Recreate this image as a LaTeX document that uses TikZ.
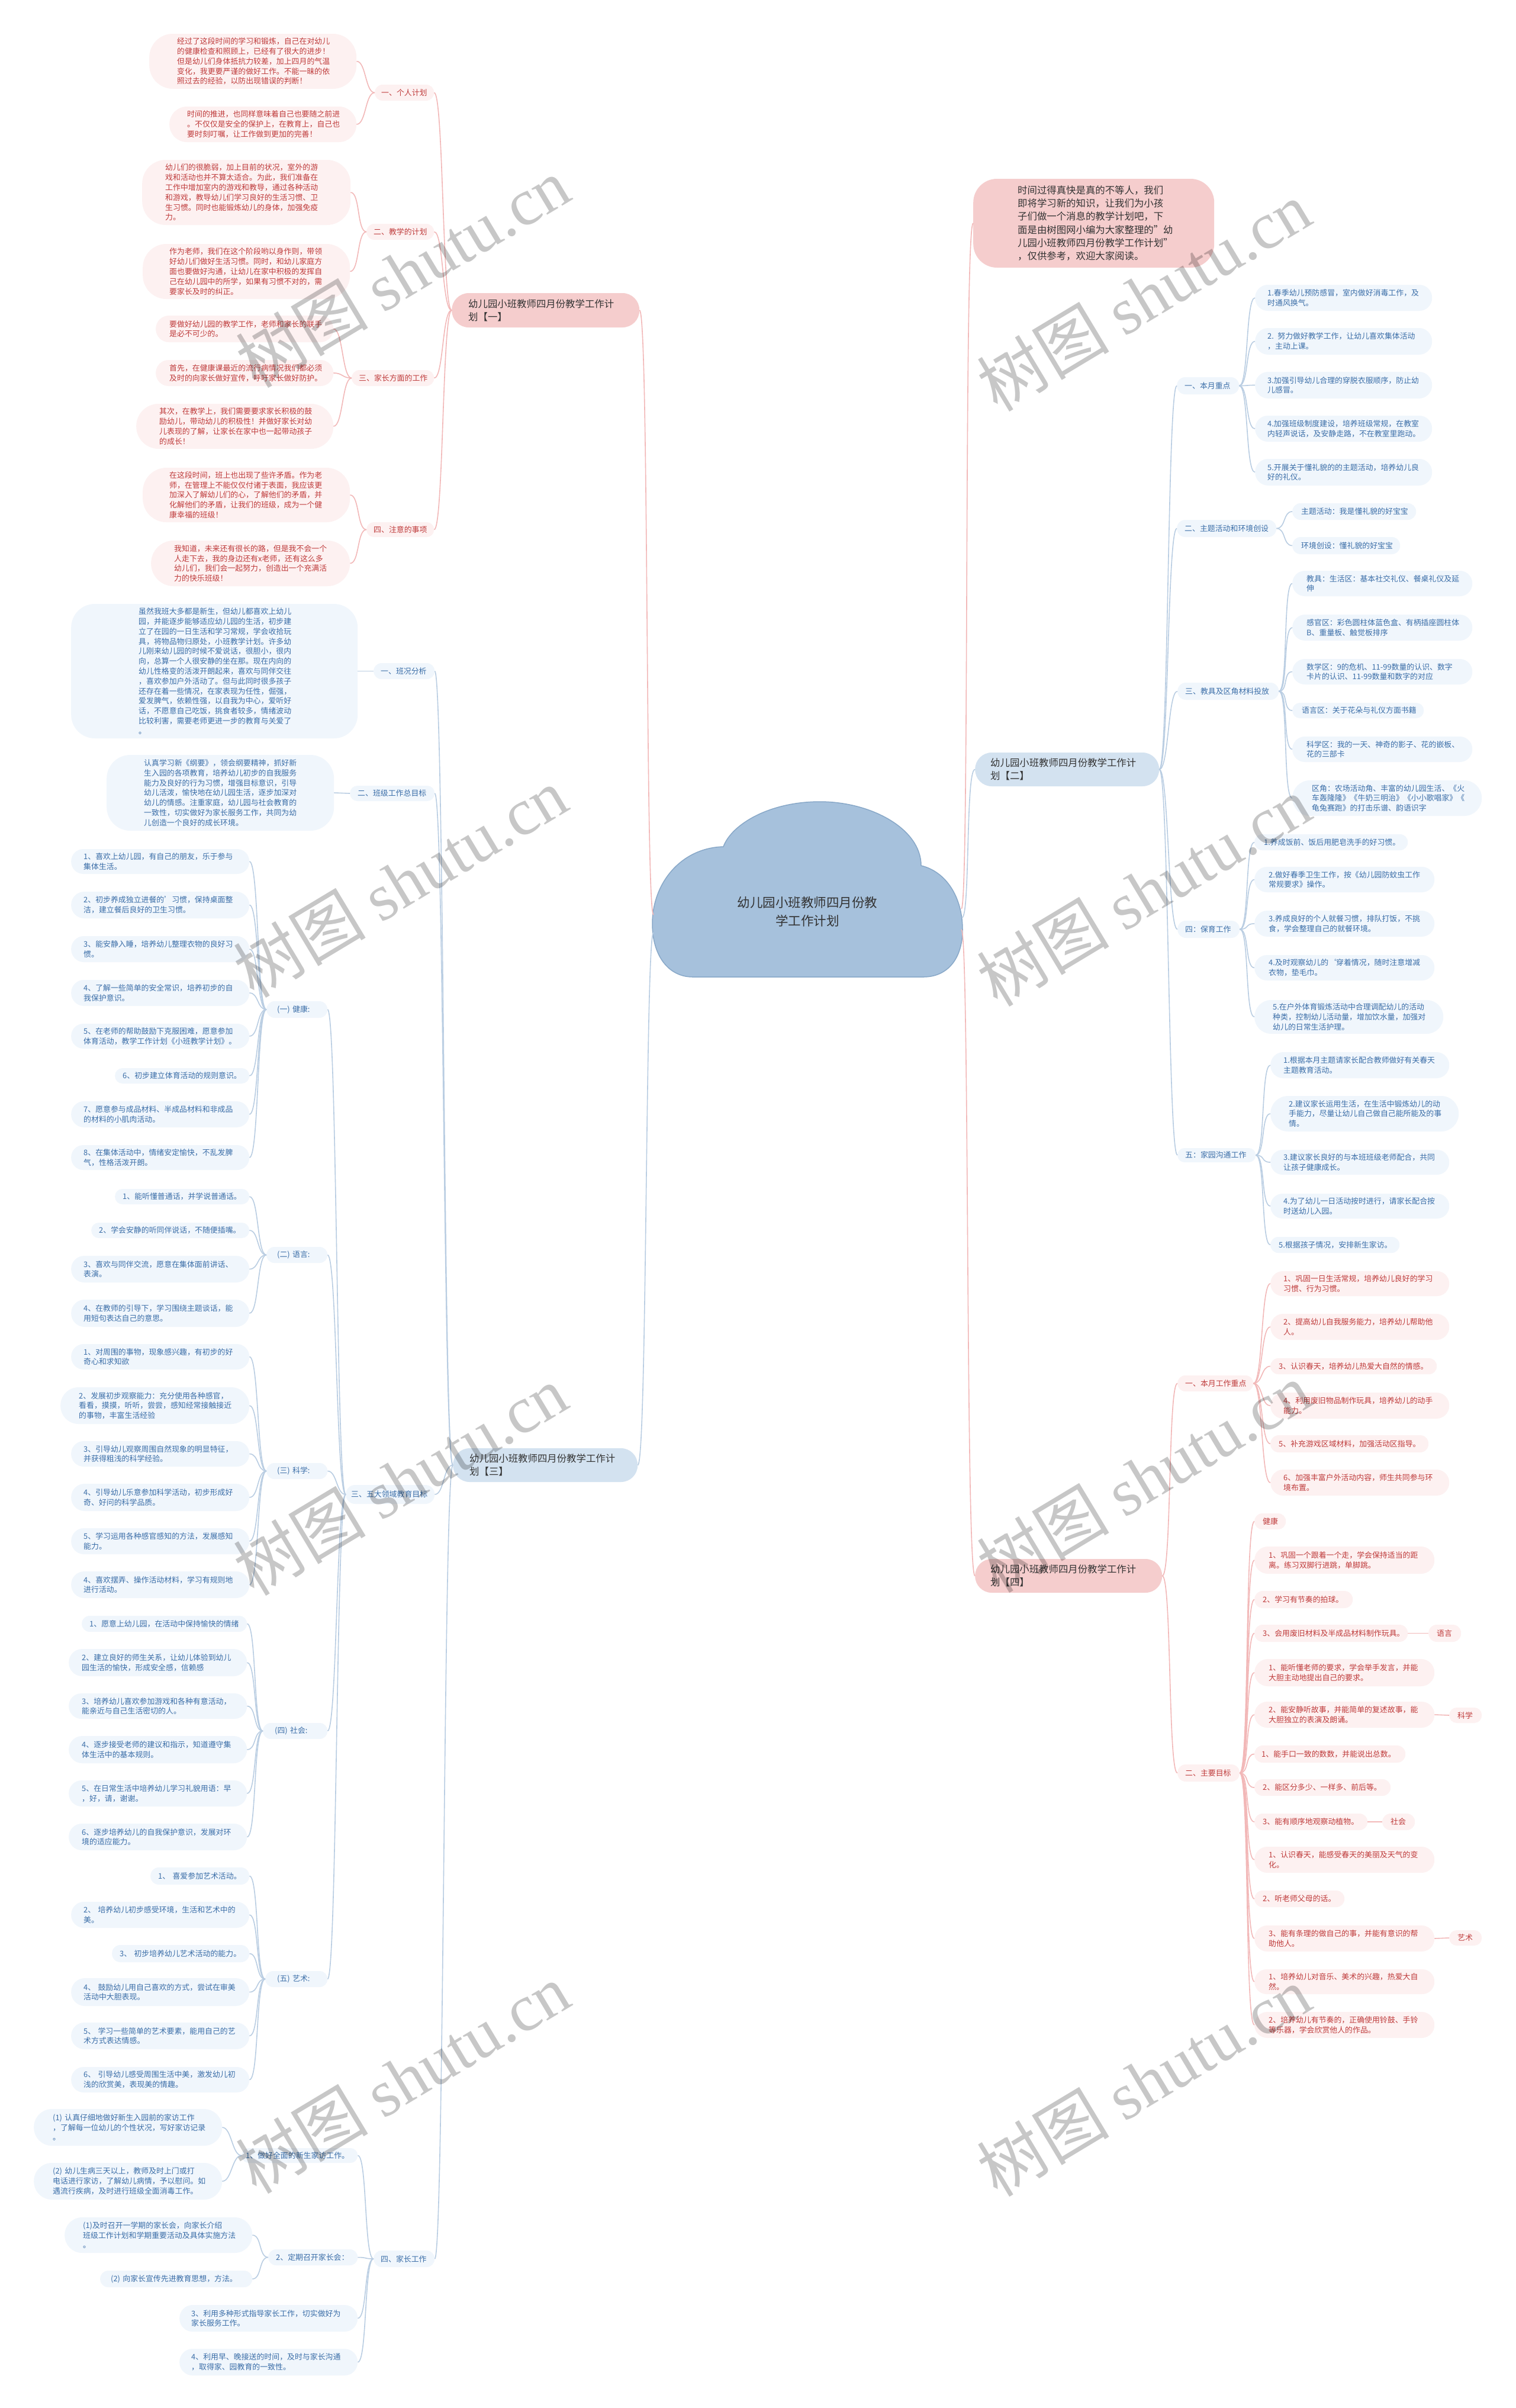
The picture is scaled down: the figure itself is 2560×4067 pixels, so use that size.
\documentclass[tikz,border=0pt]{standalone}
\usepackage{fontspec}
\setmainfont{Noto Sans CJK SC}
\newfontfamily\wmlat{Liberation Serif}
\definecolor{pkfill}{HTML}{FDF1F1}
\definecolor{pktext}{HTML}{BF3B3B}
\definecolor{pkline}{HTML}{F2B8B8}
\definecolor{pkplan}{HTML}{F5CDCD}
\definecolor{blfill}{HTML}{F0F6FC}
\definecolor{bltext}{HTML}{3B6EA8}
\definecolor{blline}{HTML}{B9CDE2}
\definecolor{blplan}{HTML}{D3E2F0}
\definecolor{cloudfill}{HTML}{A6C1DC}
\definecolor{cloudline}{HTML}{88A8C8}
\definecolor{darktext}{HTML}{333333}
\newcommand\leaffont{\fontsize{12.9}{16.8}\selectfont}
\newcommand\planfont{\fontsize{16.4}{21.7}\selectfont}
\newcommand\introfont{\fontsize{16.4}{22.3}\selectfont}
\newcommand\rootfont{\fontsize{21.5}{31}\selectfont}
\newcommand\mnode[8]{%
 \pgfmathsetmacro\lfxs{#7-#3}%
 \pgfmathsetmacro\lftw{#5-#7-(#7-#3)}%
 \pgfmathsetmacro\lfhh{#6-#4}%
 \pgfmathsetmacro\lfmy{(#4+#6)/2}%
 \pgfmathsetmacro\lfr{min(\lfhh/2-0.3,40)}%
 \node[#1, anchor=west, inner xsep=\lfxs pt, inner ysep=0pt, text width=\lftw pt, minimum height=\lfhh pt, rounded corners=\lfr pt, align=left] (#2) at (#3,\lfmy) {#8};}
\newcommand\conR[3]{\draw[#1] (#2.east) .. controls +(16,0) and +(-16,0) .. (#3.west);}
\newcommand\conL[3]{\draw[#1] (#2.west) .. controls +(-16,0) and +(16,0) .. (#3.east);}
\begin{document}
\begin{tikzpicture}[x=1pt,y=-1pt,
  pk/.style={fill=pkfill, text=pktext, font=\leaffont},
  bl/.style={fill=blfill, text=bltext, font=\leaffont},
  pkplanbox/.style={fill=pkplan, text=darktext, font=\planfont},
  blplanbox/.style={fill=blplan, text=darktext, font=\planfont},
  introbox/.style={fill=pkplan, text=darktext, font=\introfont},
  pcon/.style={draw=pkline, line width=1.6pt},
  bcon/.style={draw=blline, line width=1.6pt},
  wmark/.style={text=black, text opacity=0.22, font=\fontsize{112}{112}\selectfont, rotate=31, inner sep=0pt}]
\fill[white] (0,0) rectangle (2560,4067);
\useasboundingbox (0,0) rectangle (2560,4067);

% ---------- central cloud ----------
\path[fill=cloudfill, draw=cloudline, line width=1.5pt]
 (1170,1650) -- (1560,1650)
 .. controls (1600,1650) and (1626,1620) .. (1626,1570)
 .. controls (1626,1515) and (1598,1472) .. (1556,1462)
 .. controls (1556,1400) and (1472,1354) .. (1385,1354)
 .. controls (1300,1354) and (1236,1392) .. (1222,1430)
 .. controls (1150,1432) and (1102,1492) .. (1102,1560)
 .. controls (1102,1615) and (1130,1650) .. (1170,1650) -- cycle;
\node[text=darktext, font=\rootfont, align=center] (root) at (1364,1540) {幼儿园小班教师四月份教\\学工作计划};
\coordinate (rL1) at (1104,1545);
\coordinate (rL2) at (1104,1575);
\coordinate (rR1) at (1624,1535);
\coordinate (rR2) at (1625,1550);
\coordinate (rR3) at (1624,1570);

% ---------- plan 1 ----------
\mnode{pkplanbox}{p1}{763}{495}{1080}{553}{791}{幼儿园小班教师四月份教学工作计\\划【一】}
\mnode{pk}{a1}{633}{143}{733}{170}{644}{一、个人计划}
\mnode{pk}{a1l1}{252}{57}{602}{150}{299}{经过了这段时间的学习和锻炼，自己在对幼儿\\的健康检查和照顾上，已经有了很大的进步！\\但是幼儿们身体抵抗力较差，加上四月的气温\\变化，我更要严谨的做好工作。不能一昧的依\\照过去的经验，以防出现错误的判断！}
\mnode{pk}{a1l2}{286}{180}{602}{240}{316}{时间的推进，也同样意味着自己也要随之前进\\。不仅仅是安全的保护上，在教育上，自己也\\要时刻叮嘱，让工作做到更加的完善！}
\mnode{pk}{a2}{619}{378}{733}{405}{631}{二、教学的计划}
\mnode{pk}{a2l1}{240}{270}{592}{380}{279}{幼儿们的很脆弱，加上目前的状况，室外的游\\戏和活动也并不算太适合。为此，我们准备在\\工作中增加室内的游戏和教导，通过各种活动\\和游戏，教导幼儿们学习良好的生活习惯、卫\\生习惯。同时也能锻炼幼儿的身体，加强免疫\\力。}
\mnode{pk}{a2l2}{241}{412}{591}{505}{286}{作为老师，我们在这个阶段哟以身作则，带领\\好幼儿们做好生活习惯。同时，和幼儿家庭方\\面也要做好沟通，让幼儿在家中积极的发挥自\\己在幼儿园中的所学，如果有习惯不对的，需\\要家长及时的纠正。}
\mnode{pk}{a3}{594}{625}{733}{652}{606}{三、家长方面的工作}
\mnode{pk}{a3l1}{263}{533}{563}{578}{286}{要做好幼儿园的教学工作，老师和家长的联手\\是必不可少的。}
\mnode{pk}{a3l2}{263}{608}{563}{652}{286}{首先，在健康课最近的流行病情况我们都必须\\及时的向家长做好宣传，呼吁家长做好防护。}
\mnode{pk}{a3l3}{230}{682}{563}{758}{269}{其次，在教学上，我们需要要求家长积极的鼓\\励幼儿，带动幼儿的积极性！并做好家长对幼\\儿表现的了解，让家长在家中也一起带动孩子\\的成长！}
\mnode{pk}{a4}{619}{882}{733}{907}{631}{四、注意的事项}
\mnode{pk}{a4l1}{241}{790}{591}{882}{286}{在这段时间，班上也出现了些许矛盾。作为老\\师，在管理上不能仅仅付诸于表面，我应该更\\加深入了解幼儿们的心，了解他们的矛盾，并\\化解他们的矛盾，让我们的班级，成为一个健\\康幸福的班级！}
\mnode{pk}{a4l2}{255}{913}{591}{990}{294}{我知道，未来还有很长的路，但是我不会一个\\人走下去，我的身边还有x老师，还有这么多\\幼儿们，我们会一起努力，创造出一个充满活\\力的快乐班级！}

% ---------- plan 3 ----------
\mnode{blplanbox}{p3}{765}{2446}{1077}{2503}{793}{幼儿园小班教师四月份教学工作计\\划【三】}
\mnode{bl}{b1}{631}{1120}{734}{1147}{643}{一、班况分析}
\mnode{bl}{b1l}{120}{1020}{604}{1247}{234}{虽然我班大多都是新生，但幼儿都喜欢上幼儿\\园，并能逐步能够适应幼儿园的生活，初步建\\立了在园的一日生活和学习常规，学会收拾玩\\具，将物品物归原处，小班教学计划。许多幼\\儿刚来幼儿园的时候不爱说话，很胆小，很内\\向，总算一个人很安静的坐在那。现在内向的\\幼儿性格变的活泼开朗起来，喜欢与同伴交往\\，喜欢参加户外活动了。但与此同时很多孩子\\还存在着一些情况，在家表现为任性，倔强，\\爱发脾气，依赖性强，以自我为中心，爱听好\\话，不愿意自己吃饭，挑食者较多，情绪波动\\比较利害，需要老师更进一步的教育与关爱了\\。}
\mnode{bl}{b2}{591}{1327}{734}{1353}{604}{二、班级工作总目标}
\mnode{bl}{b2l}{180}{1275}{564}{1403}{243}{认真学习新《纲要》，领会纲要精神，抓好新\\生入园的各项教育，培养幼儿初步的自我服务\\能力及良好的行为习惯，增强目标意识，引导\\幼儿活泼，愉快地在幼儿园生活，逐步加深对\\幼儿的情感。注重家庭，幼儿园与社会教育的\\一致性，切实做好为家长服务工作，共同为幼\\儿创造一个良好的成长环境。}
\mnode{bl}{b3}{584}{2508}{734}{2540}{593}{三、五大领域教育目标}
\mnode{bl}{b4}{631}{3801}{734}{3829}{643}{四、家长工作}

\mnode{bl}{hc}{450}{1691}{553}{1719}{468}{(一) 健康:}
\mnode{bl}{h1}{120}{1434}{421}{1476}{141}{1、喜欢上幼儿园，有自己的朋友，乐于参与\\集体生活。}
\mnode{bl}{h2}{120}{1506}{421}{1551}{141}{2、初步养成独立进餐的'习惯，保持桌面整\\洁，建立餐后良好的卫生习惯。}
\mnode{bl}{h3}{120}{1581}{421}{1625}{141}{3、能安静入睡，培养幼儿整理衣物的良好习\\惯。}
\mnode{bl}{h4}{120}{1655}{421}{1699}{141}{4、了解一些简单的安全常识，培养初步的自\\我保护意识。}
\mnode{bl}{h5}{120}{1729}{421}{1771}{141}{5、在老师的帮助鼓励下克服困难，愿意参加\\体育活动，教学工作计划《小班教学计划》。}
\mnode{bl}{h6}{194}{1804}{421}{1830}{207}{6、初步建立体育活动的规则意识。}
\mnode{bl}{h7}{120}{1860}{421}{1904}{141}{7、愿意参与成品材料、半成品材料和非成品\\的材料的小肌肉活动。}
\mnode{bl}{h8}{120}{1934}{421}{1976}{141}{8、在集体活动中，情绪安定愉快，不乱发脾\\气，性格活泼开朗。}

\mnode{bl}{lc}{450}{2106}{553}{2133}{468}{(二) 语言:}
\mnode{bl}{l1}{194}{2008}{421}{2034}{207}{1、能听懂普通话，并学说普通话。}
\mnode{bl}{l2}{154}{2065}{421}{2091}{167}{2、学会安静的听同伴说话，不随便插嘴。}
\mnode{bl}{l3}{120}{2121}{421}{2166}{141}{3、喜欢与同伴交流，愿意在集体面前讲话、\\表演。}
\mnode{bl}{l4}{120}{2195}{421}{2241}{141}{4、在教师的引导下，学习围绕主题谈话，能\\用短句表达自己的意思。}

\mnode{bl}{sc}{450}{2471}{553}{2498}{468}{(三) 科学:}
\mnode{bl}{s1}{120}{2270}{421}{2313}{141}{1、对周围的事物，现象感兴趣，有初步的好\\奇心和求知欲}
\mnode{bl}{s2}{102}{2343}{421}{2405}{133}{2、发展初步观察能力：充分使用各种感官，\\看看，摸摸，听听，尝尝，感知经常接触接近\\的事物，丰富生活经验}
\mnode{bl}{s3}{120}{2434}{421}{2477}{141}{3、引导幼儿观察周围自然现象的明显特征，\\并获得粗浅的科学经验。}
\mnode{bl}{s4}{120}{2506}{421}{2552}{141}{4、引导幼儿乐意参加科学活动，初步形成好\\奇、好问的科学品质。}
\mnode{bl}{s5}{120}{2581}{421}{2625}{141}{5、学习运用各种感官感知的方法，发展感知\\能力。}
\mnode{bl}{s6}{120}{2654}{421}{2699}{141}{4、喜欢摆弄、操作活动材料，学习有规则地\\进行活动。}

\mnode{bl}{oc}{444}{2910}{553}{2937}{464}{(四) 社会:}
\mnode{bl}{o1}{138}{2729}{417}{2756}{151}{1、愿意上幼儿园，在活动中保持愉快的情绪}
\mnode{bl}{o2}{116}{2785}{417}{2831}{138}{2、建立良好的师生关系，让幼儿体验到幼儿\\园生活的愉快，形成安全感，信赖感}
\mnode{bl}{o3}{116}{2860}{417}{2903}{138}{3、培养幼儿喜欢参加游戏和各种有意活动，\\能亲近与自己生活密切的人。}
\mnode{bl}{o4}{116}{2932}{417}{2978}{138}{4、逐步接受老师的建议和指示，知道遵守集\\体生活中的基本规则。}
\mnode{bl}{o5}{116}{3007}{417}{3051}{138}{5、在日常生活中培养幼儿学习礼貌用语：早\\，好，请，谢谢。}
\mnode{bl}{o6}{116}{3080}{417}{3125}{138}{6、逐步培养幼儿的自我保护意识，发展对环\\境的适应能力。}

\mnode{bl}{ac}{448}{3329}{553}{3356}{468}{(五) 艺术:}
\mnode{bl}{r1}{254}{3154}{421}{3183}{267}{1、 喜爱参加艺术活动。}
\mnode{bl}{r2}{120}{3212}{421}{3256}{141}{2、 培养幼儿初步感受环境，生活和艺术中的\\美。}
\mnode{bl}{r3}{189}{3285}{421}{3314}{202}{3、 初步培养幼儿艺术活动的能力。}
\mnode{bl}{r4}{120}{3341}{421}{3388}{141}{4、 鼓励幼儿用自己喜欢的方式，尝试在审美\\活动中大胆表现。}
\mnode{bl}{r5}{120}{3416}{421}{3461}{141}{5、 学习一些简单的艺术要素，能用自己的艺\\术方式表达情感。}
\mnode{bl}{r6}{120}{3491}{421}{3534}{141}{6、 引导幼儿感受周围生活中美，激发幼儿初\\浅的欣赏美，表现美的情趣。}

\mnode{bl}{f1}{408}{3628}{604}{3653}{415}{1、做好全面的新生家访工作。}
\mnode{bl}{f1a}{57}{3562}{375}{3624}{89}{(1) 认真仔细地做好新生入园前的家访工作\\，了解每一位幼儿的个性状况，写好家访记录\\。}
\mnode{bl}{f1b}{57}{3653}{375}{3715}{89}{(2) 幼儿生病三天以上，教师及时上门或打\\电话进行家访，了解幼儿病情，予以慰问。如\\遇流行疾病，及时进行班级全面消毒工作。}
\mnode{bl}{f2}{453}{3799}{604}{3826}{466}{2、定期召开家长会：}
\mnode{bl}{f2a}{109}{3745}{426}{3805}{140}{(1)及时召开一学期的家长会，向家长介绍\\班级工作计划和学期重要活动及具体实施方法\\。}
\mnode{bl}{f2b}{169}{3835}{426}{3863}{187}{(2) 向家长宣传先进教育思想，方法。}
\mnode{bl}{f3}{303}{3893}{604}{3938}{323}{3、利用多种形式指导家长工作，切实做好为\\家长服务工作。}
\mnode{bl}{f4}{303}{3967}{604}{4012}{323}{4、利用早、晚接送的时间，及时与家长沟通\\，取得家、园教育的一致性。}

% ---------- intro ----------
\mnode{introbox}{intro}{1644}{302}{2051}{452}{1719}{时间过得真快是真的不等人，我们\\即将学习新的知识，让我们为小孩\\子们做一个消息的教学计划吧，下\\面是由树图网小编为大家整理的"幼\\儿园小班教师四月份教学工作计划"\\，仅供参考，欢迎大家阅读。}

% ---------- plan 2 ----------
\mnode{blplanbox}{p2}{1647}{1271}{1958}{1328}{1673}{幼儿园小班教师四月份教学工作计\\划【二】}
\mnode{bl}{c1}{1988}{637}{2093}{666}{2001}{一、本月重点}
\mnode{bl}{B1}{2120}{481}{2419}{525}{2141}{1.春季幼儿预防感冒，室内做好消毒工作，及\\时通风换气。}
\mnode{bl}{B2}{2120}{554}{2419}{599}{2141}{2. 努力做好教学工作，让幼儿喜欢集体活动\\，主动上课。}
\mnode{bl}{B3}{2120}{628}{2419}{673}{2141}{3.加强引导幼儿合理的穿脱衣服顺序，防止幼\\儿感冒。}
\mnode{bl}{B4}{2120}{702}{2419}{746}{2141}{4.加强班级制度建设，培养班级常规，在教室\\内轻声说话，及安静走路，不在教室里跑动。}
\mnode{bl}{B5}{2120}{775}{2419}{820}{2141}{5.开展关于懂礼貌的的主题活动，培养幼儿良\\好的礼仪。}
\mnode{bl}{c2}{1988}{878}{2156}{907}{2001}{二、主题活动和环境创设}
\mnode{bl}{T1}{2183}{850}{2392}{878}{2198}{主题活动：我是懂礼貌的好宝宝}
\mnode{bl}{T2}{2183}{907}{2365}{936}{2198}{环境创设：懂礼貌的好宝宝}
\mnode{bl}{c3}{1989}{1153}{2160}{1182}{2002}{三、教具及区角材料投放}
\mnode{bl}{M1}{2183}{964}{2487}{1007}{2207}{教具：生活区：基本社交礼仪、餐桌礼仪及延\\伸}
\mnode{bl}{M2}{2183}{1038}{2487}{1082}{2207}{感官区：彩色圆柱体蓝色盒、有柄插座圆柱体\\B、重量板、触觉板排序}
\mnode{bl}{M3}{2183}{1113}{2487}{1156}{2207}{数学区：9的危机、11-99数量的认识、数字\\卡片的认识、11-99数量和数字的对应}
\mnode{bl}{M4}{2183}{1187}{2405}{1213}{2199}{语言区：关于花朵与礼仪方面书籍}
\mnode{bl}{M5}{2183}{1244}{2487}{1287}{2207}{科学区：我的一天、神奇的影子、花的嵌板、\\花的三部卡}
\mnode{bl}{M6}{2183}{1318}{2503}{1378}{2216}{区角：农场活动角、丰富的幼儿园生活、《火\\车轰隆隆》《牛奶三明治》《小小歌唱家》《\\龟兔赛跑》的打击乐谱、韵语识字}
\mnode{bl}{c4}{1989}{1555}{2094}{1584}{2002}{四：保育工作}
\mnode{bl}{C1}{2119}{1409}{2378}{1436}{2135}{1.养成饭前、饭后用肥皂洗手的好习惯。}
\mnode{bl}{C2}{2119}{1464}{2423}{1507}{2143}{2.做好春季卫生工作，按《幼儿园防蚊虫工作\\常规要求》操作。}
\mnode{bl}{C3}{2119}{1538}{2423}{1582}{2143}{3.养成良好的个人就餐习惯，排队打饭，不挑\\食，学会整理自己的就餐环境。}
\mnode{bl}{C4}{2119}{1613}{2423}{1656}{2143}{4.及时观察幼儿的\symbol{96}穿着情况，随时注意增减\\衣物，垫毛巾。}
\mnode{bl}{C5}{2119}{1689}{2438}{1746}{2150}{5.在户外体育锻炼活动中合理调配幼儿的活动\\种类，控制幼儿活动量，增加饮水量，加强对\\幼儿的日常生活护理。}
\mnode{bl}{c5}{1989}{1939}{2121}{1963}{2002}{五：家园沟通工作}
\mnode{bl}{H1}{2146}{1777}{2448}{1821}{2168}{1.根据本月主题请家长配合教师做好有关春天\\主题教育活动。}
\mnode{bl}{H2}{2146}{1851}{2464}{1911}{2177}{2.建议家长运用生活，在生活中锻炼幼儿的动\\手能力，尽量让幼儿自己做自己能所能及的事\\情。}
\mnode{bl}{H3}{2146}{1942}{2448}{1984}{2168}{3.建议家长良好的与本班班级老师配合，共同\\让孩子健康成长。}
\mnode{bl}{H4}{2146}{2016}{2448}{2058}{2168}{4.为了幼儿一日活动按时进行，请家长配合按\\时送幼儿入园。}
\mnode{bl}{H5}{2146}{2089}{2364}{2116}{2160}{5.根据孩子情况，安排新生家访。}

% ---------- plan 4 ----------
\mnode{pkplanbox}{p4}{1647}{2633}{1963}{2690}{1673}{幼儿园小班教师四月份教学工作计\\划【四】}
\mnode{pk}{d1}{1989}{2323}{2117}{2350}{2002}{一、本月工作重点}
\mnode{pk}{W1}{2146}{2147}{2448}{2189}{2168}{1、巩固一日生活常规，培养幼儿良好的学习\\习惯、行为习惯。}
\mnode{pk}{W2}{2146}{2219}{2448}{2263}{2168}{2、提高幼儿自我服务能力，培养幼儿帮助他\\人。}
\mnode{pk}{W3}{2146}{2294}{2427}{2321}{2160}{3、认识春天，培养幼儿热爱大自然的情感。}
\mnode{pk}{W4}{2146}{2352}{2448}{2396}{2168}{4、利用废旧物品制作玩具，培养幼儿的动手\\能力。}
\mnode{pk}{W5}{2146}{2424}{2413}{2453}{2160}{5、补充游戏区域材料，加强活动区指导。}
\mnode{pk}{W6}{2146}{2482}{2448}{2526}{2168}{6、加强丰富户外活动内容，师生共同参与环\\境布置。}
\mnode{pk}{d2}{1989}{2980}{2094}{3009}{2002}{二、主要目标}
\mnode{pk}{G0}{2119}{2556}{2172}{2583}{2133}{健康}
\mnode{pk}{G1}{2119}{2612}{2423}{2658}{2143}{1、巩固一个跟着一个走，学会保持适当的距\\离。练习双脚行进跳，单脚跳。}
\mnode{pk}{G2}{2119}{2687}{2285}{2716}{2133}{2、学习有节奏的拍球。}
\mnode{pk}{G3}{2119}{2744}{2378}{2773}{2133}{3、会用废旧材料及半成品材料制作玩具。}
\mnode{pk}{tg1}{2413}{2744}{2468}{2773}{2427}{语言}
\mnode{pk}{G4}{2119}{2802}{2423}{2848}{2143}{1、能听懂老师的要求，学会举手发言，并能\\大胆主动地提出自己的要求。}
\mnode{pk}{G5}{2119}{2874}{2423}{2918}{2143}{2、能安静听故事，并能简单的复述故事，能\\大胆独立的表演及朗诵。}
\mnode{pk}{tg2}{2448}{2884}{2503}{2910}{2462}{科学}
\mnode{pk}{G6}{2119}{2948}{2374}{2977}{2131}{1、能手口一致的数数，并能说出总数。}
\mnode{pk}{G7}{2119}{3005}{2349}{3033}{2133}{2、能区分多少、一样多、前后等。}
\mnode{pk}{G8}{2119}{3063}{2310}{3091}{2133}{3、能有顺序地观察动植物。}
\mnode{pk}{tg3}{2335}{3063}{2390}{3091}{2349}{社会}
\mnode{pk}{G9}{2119}{3119}{2423}{3163}{2143}{1、认识春天，能感受春天的美丽及天气的变\\化。}
\mnode{pk}{G10}{2119}{3193}{2271}{3221}{2133}{2、听老师父母的话。}
\mnode{pk}{G11}{2119}{3252}{2423}{3296}{2143}{3、能有条理的做自己的事，并能有意识的帮\\助他人。}
\mnode{pk}{tg4}{2448}{3260}{2503}{3286}{2462}{艺术}
\mnode{pk}{G12}{2119}{3326}{2423}{3368}{2143}{1、培养幼儿对音乐、美术的兴趣，热爱大自\\然。}
\mnode{pk}{G13}{2119}{3398}{2423}{3442}{2143}{2、培养幼儿有节奏的，正确使用铃鼓、手铃\\等乐器，学会欣赏他人的作品。}

% ---------- connectors ----------
\draw[pcon] (p1.east) .. controls +(16,0) and +(-14,0) .. (rL1);
\draw[bcon] (p3.east) .. controls +(16,0) and +(-14,0) .. (rL2);
\draw[pcon] (rR1) .. controls +(14,0) and +(-16,0) .. (intro.west);
\draw[bcon] (rR2) .. controls +(14,0) and +(-16,0) .. (p2.west);
\draw[pcon] (rR3) .. controls +(14,0) and +(-16,0) .. (p4.west);

\foreach \c in {a1,a2,a3,a4} {\conL{pcon}{p1}{\c}}
\conL{pcon}{a1}{a1l1} \conL{pcon}{a1}{a1l2}
\conL{pcon}{a2}{a2l1} \conL{pcon}{a2}{a2l2}
\conL{pcon}{a3}{a3l1} \conL{pcon}{a3}{a3l2} \conL{pcon}{a3}{a3l3}
\conL{pcon}{a4}{a4l1} \conL{pcon}{a4}{a4l2}

\foreach \c in {b1,b2,b3,b4} {\conL{bcon}{p3}{\c}}
\draw[bcon] (b1.west) -- (b1l.east);
\draw[bcon] (b2.west) -- (b2l.east);
\foreach \c in {hc,lc,sc,oc,ac} {\conL{bcon}{b3}{\c}}
\foreach \c in {h1,h2,h3,h4,h5,h6,h7,h8} {\conL{bcon}{hc}{\c}}
\foreach \c in {l1,l2,l3,l4} {\conL{bcon}{lc}{\c}}
\foreach \c in {s1,s2,s3,s4,s5,s6} {\conL{bcon}{sc}{\c}}
\foreach \c in {o1,o2,o3,o4,o5,o6} {\conL{bcon}{oc}{\c}}
\foreach \c in {r1,r2,r3,r4,r5,r6} {\conL{bcon}{ac}{\c}}
\foreach \c in {f1,f2,f3,f4} {\conL{bcon}{b4}{\c}}
\conL{bcon}{f1}{f1a} \conL{bcon}{f1}{f1b}
\conL{bcon}{f2}{f2a} \conL{bcon}{f2}{f2b}

\foreach \c in {c1,c2,c3,c4,c5} {\conR{bcon}{p2}{\c}}
\foreach \c in {B1,B2,B3,B4,B5} {\conR{bcon}{c1}{\c}}
\foreach \c in {T1,T2} {\conR{bcon}{c2}{\c}}
\foreach \c in {M1,M2,M3,M4,M5,M6} {\conR{bcon}{c3}{\c}}
\foreach \c in {C1,C2,C3,C4,C5} {\conR{bcon}{c4}{\c}}
\foreach \c in {H1,H2,H3,H4,H5} {\conR{bcon}{c5}{\c}}

\foreach \c in {d1,d2} {\conR{pcon}{p4}{\c}}
\foreach \c in {W1,W2,W3,W4,W5,W6} {\conR{pcon}{d1}{\c}}
\foreach \c in {G0,G1,G2,G3,G4,G5,G6,G7,G8,G9,G10,G11,G12,G13} {\conR{pcon}{d2}{\c}}
\draw[pcon] (G3.east) -- (tg1.west);
\draw[pcon] (G5.east) -- (tg2.west);
\draw[pcon] (G8.east) -- (tg3.west);
\draw[pcon] (G11.east) -- (tg4.west);

% ---------- watermarks ----------
\node[wmark] (wm1) at (680,460) {树图 {\wmlat shutu.cn}};
\node[wmark] (wm2) at (1932,500) {树图 {\wmlat shutu.cn}};
\node[wmark] (wm3) at (676,1490) {树图 {\wmlat shutu.cn}};
\node[wmark] (wm4) at (1932,1505) {树图 {\wmlat shutu.cn}};
\node[wmark] (wm5) at (676,2500) {树图 {\wmlat shutu.cn}};
\node[wmark] (wm6) at (1932,2495) {树图 {\wmlat shutu.cn}};
\node[wmark] (wm7) at (680,3510) {树图 {\wmlat shutu.cn}};
\node[wmark] (wm8) at (1932,3515) {树图 {\wmlat shutu.cn}};
\end{tikzpicture}
\end{document}
